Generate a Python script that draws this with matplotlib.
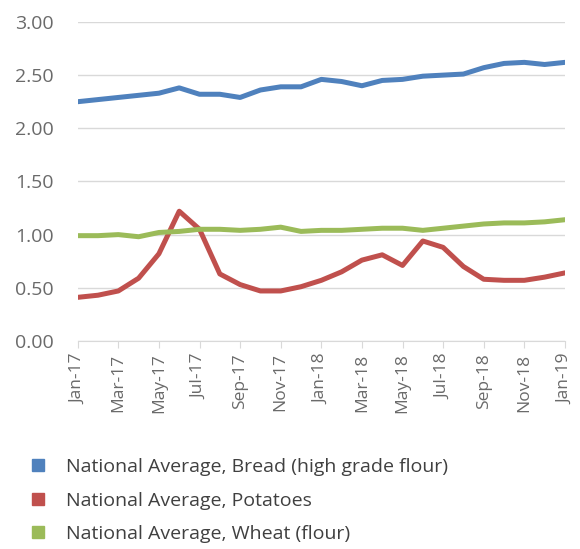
import matplotlib.pyplot as plt
from matplotlib.lines import Line2D
import numpy as np

months = ["Jan-17", "Feb-17", "Mar-17", "Apr-17", "May-17", "Jun-17", "Jul-17", "Aug-17",
          "Sep-17", "Oct-17", "Nov-17", "Dec-17", "Jan-18", "Feb-18", "Mar-18", "Apr-18",
          "May-18", "Jun-18", "Jul-18", "Aug-18", "Sep-18", "Oct-18", "Nov-18", "Dec-18",
          "Jan-19"]

bread = [2.25, 2.27, 2.29, 2.31, 2.33, 2.38, 2.32, 2.32, 2.29, 2.36, 2.39, 2.39, 2.46,
         2.44, 2.40, 2.45, 2.46, 2.49, 2.50, 2.51, 2.57, 2.61, 2.62, 2.60, 2.62]
potatoes = [0.41, 0.43, 0.47, 0.59, 0.82, 1.22, 1.05, 0.63, 0.53, 0.47, 0.47, 0.51, 0.57,
            0.65, 0.76, 0.81, 0.71, 0.94, 0.88, 0.70, 0.58, 0.57, 0.57, 0.60, 0.64]
wheat = [0.99, 0.99, 1.00, 0.98, 1.02, 1.03, 1.05, 1.05, 1.04, 1.05, 1.07, 1.03, 1.04,
         1.04, 1.05, 1.06, 1.06, 1.04, 1.06, 1.08, 1.10, 1.11, 1.11, 1.12, 1.14]

labels = ["National Average, Bread (high grade flour)",
          "National Average, Potatoes",
          "National Average, Wheat (flour)"]
colors = ["#4F81BD", "#C0504D", "#9BBB59"]

plt.rcParams['font.family'] = ['Open Sans', 'DejaVu Sans']
txt = "#6A6A6A"

fig = plt.figure(figsize=(5.8, 5.49), dpi=100)
ax = fig.add_axes([0.134, 0.379, 0.840, 0.581])

x = np.arange(len(months))
for series, c in zip([bread, potatoes, wheat], colors):
    ax.plot(x, series, color=c, lw=3.6, solid_capstyle="round", zorder=3)

ax.set_xlim(0, len(months) - 1)
ax.set_ylim(0, 3)
ax.set_yticks(np.arange(0, 3.01, 0.5))
ax.set_yticklabels(["%.2f" % v for v in np.arange(0, 3.01, 0.5)], fontsize=14, color=txt)
ax.set_xticks(x[::2])
ax.set_xticklabels(months[::2], rotation=90, fontsize=12.5, color=txt)
ax.grid(axis="y", color="#D9D9D9", lw=1)
ax.set_axisbelow(True)
for s in ["top", "right", "left"]:
    ax.spines[s].set_visible(False)
ax.spines["bottom"].set_color("#D9D9D9")
ax.tick_params(axis="y", length=0, pad=17)
ax.tick_params(axis="x", length=5, color="#D9D9D9", pad=4)

handles = [Line2D([], [], ls="none", marker="s", markersize=8, color=c) for c in colors]
fig.legend(handles, labels, loc="upper left", bbox_to_anchor=(0.035, 0.18),
           frameon=False, fontsize=14, labelcolor="#404040", handlelength=1.0,
           handletextpad=0.95, labelspacing=0.8, borderaxespad=0)

fig.savefig("out.png", dpi=100)
